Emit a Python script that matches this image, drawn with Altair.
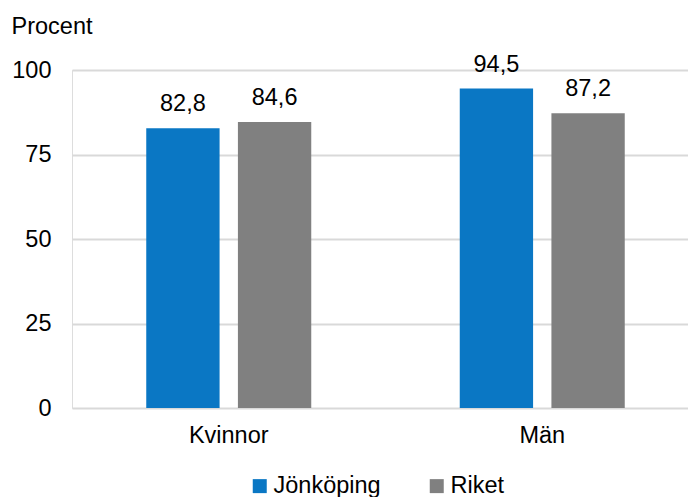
import altair as alt
import pandas as pd

categories = ["Kvinnor", "Kvinnor", "Män", "Män"]
series = ["Jönköping", "Riket", "Jönköping", "Riket"]
values = [82.8, 84.6, 94.5, 87.2]

df = pd.DataFrame({"kon": categories, "serie": series, "varde": values})
df["etikett"] = [f"{v:.1f}".replace(".", ",") for v in values]

FONT = "Liberation Sans"
FS = 23.5
color_scale = alt.Scale(domain=["Jönköping", "Riket"], range=["#0a77c4", "#808080"])

x_enc = alt.X("kon:N", sort=["Kvinnor", "Män"],
              scale=alt.Scale(paddingInner=0, paddingOuter=0, range=[0, 627]),
              axis=alt.Axis(title=None, labelAngle=0, labelFontSize=FS, labelFont=FONT,
                            labelColor="#000000", ticks=False, domain=False, labelPadding=15))
xoff = alt.XOffset("serie:N", sort=["Jönköping", "Riket"],
                   scale=alt.Scale(paddingInner=0.2, paddingOuter=0.81))

base = alt.Chart(df)

bars = base.mark_bar().encode(
    x=x_enc,
    xOffset=xoff,
    y=alt.Y("varde:Q", scale=alt.Scale(domain=[0, 100]),
            axis=alt.Axis(values=[0, 25, 50, 75, 100], title="Procent", titleAngle=0,
                          titleX=-61, titleY=-44, titleAlign="left", titleBaseline="middle",
                          titleFontSize=FS, titleFont=FONT, titleFontWeight="normal",
                          titleColor="#000000",
                          labelFontSize=FS, labelFont=FONT, labelColor="#000000",
                          labelPadding=21, ticks=False, domain=False,
                          grid=True, gridColor="#d9d9d9", gridWidth=2)),
    color=alt.Color("serie:N", scale=color_scale, sort=["Jönköping", "Riket"],
                    legend=alt.Legend(title=None, orient="none", direction="horizontal",
                                      legendX=176, legendY=404,
                                      symbolType="square", symbolSize=196,
                                      symbolStrokeWidth=0, labelFontSize=FS, labelFont=FONT,
                                      labelColor="#000000", labelOffset=2,
                                      columnPadding=44)),
)

labels = base.mark_text(fontSize=FS, font=FONT, color="#000000", baseline="alphabetic", dy=-17).encode(
    x=alt.X("kon:N", sort=["Kvinnor", "Män"]),
    xOffset=xoff,
    y="varde:Q",
    text="etikett:N",
)

chart = (bars + labels).properties(
    width=616, height=338,
    autosize=alt.AutoSizeParams(type="none"),
    padding={"left": 72, "top": 70, "right": 0, "bottom": 89},
).configure_view(stroke=None).configure(background="#ffffff")

chart.save("out.html", embed_options={"renderer": "svg", "actions": False})
